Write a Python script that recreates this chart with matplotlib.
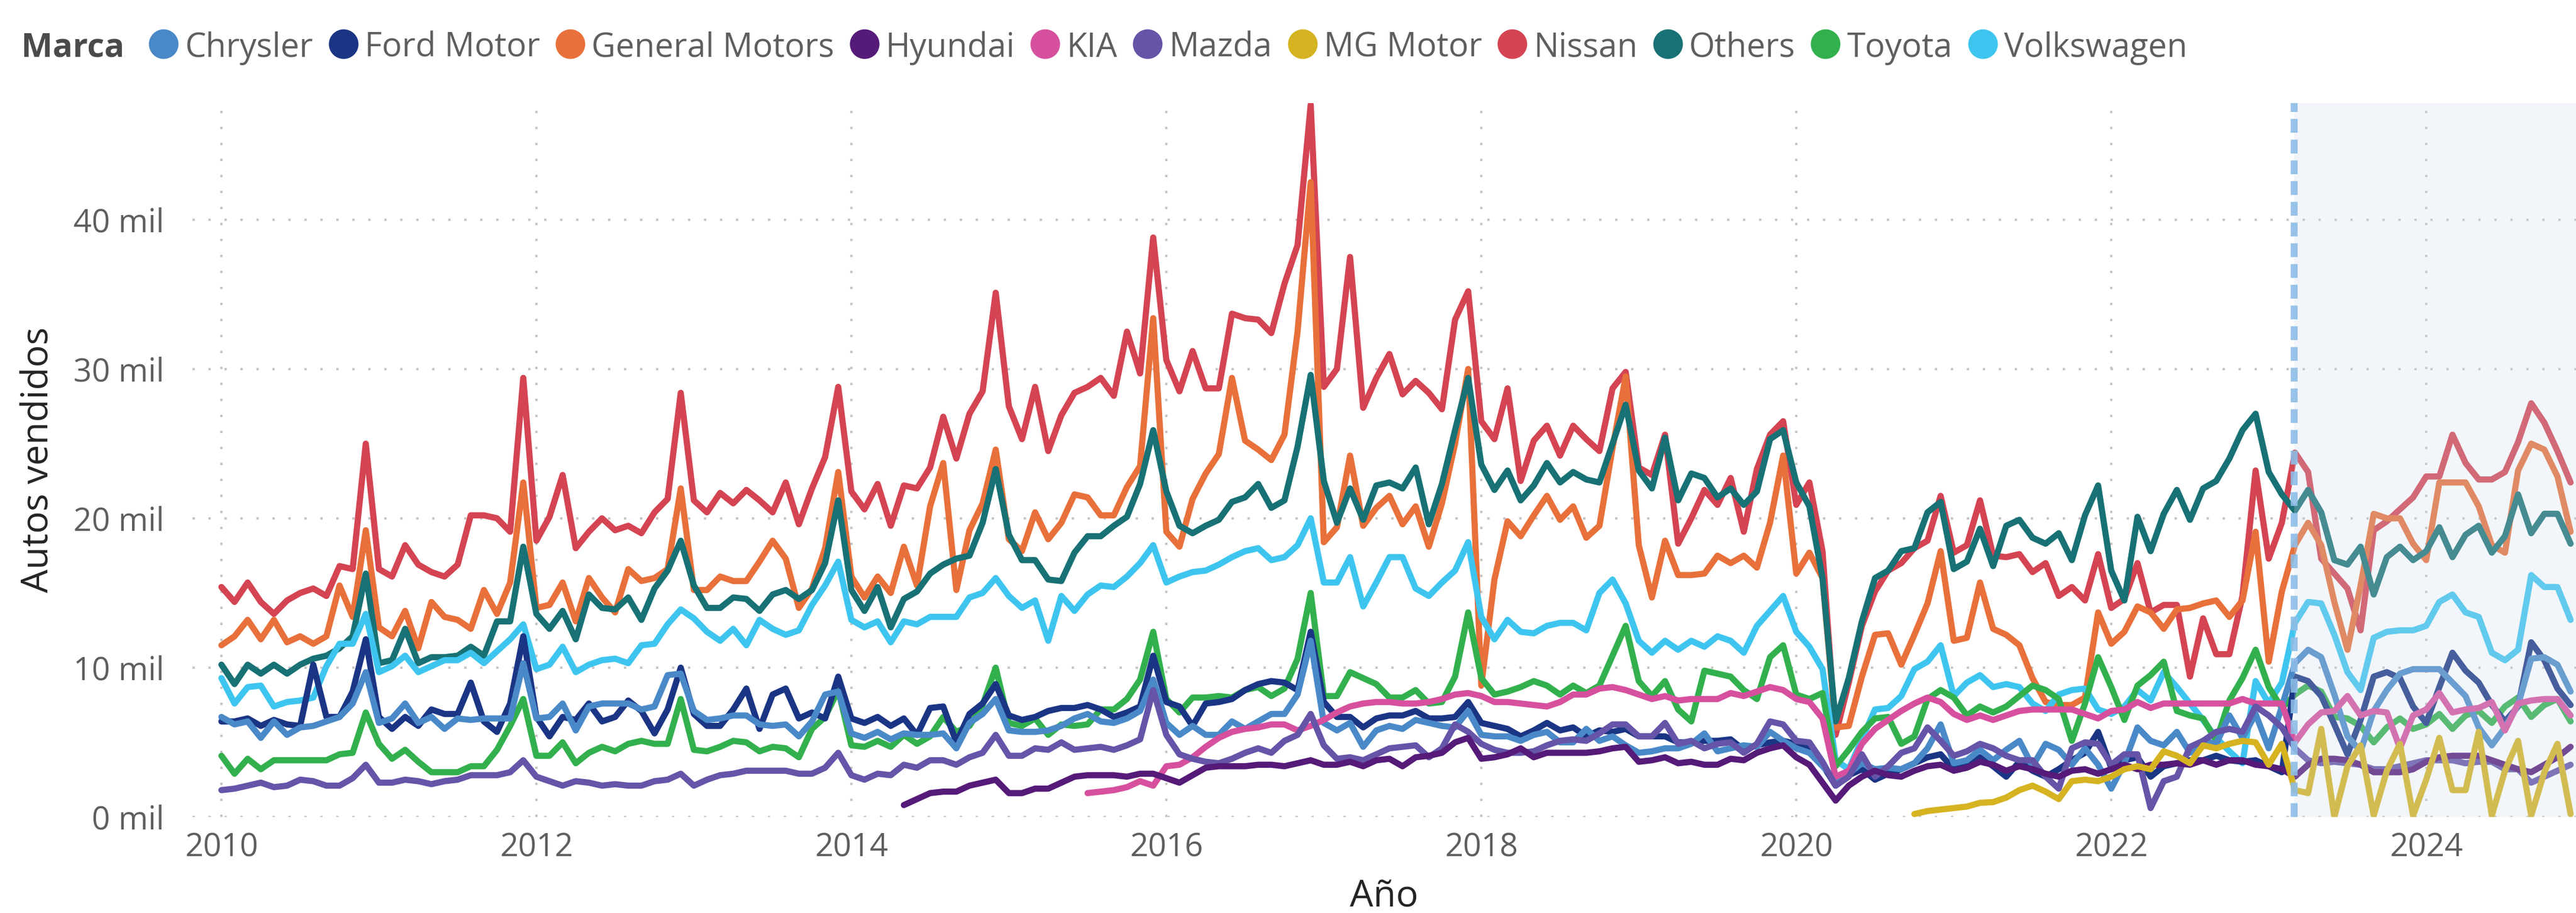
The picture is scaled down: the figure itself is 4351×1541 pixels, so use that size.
import numpy as np
import matplotlib
matplotlib.use("Agg")
import matplotlib.pyplot as plt
from matplotlib.lines import Line2D

plt.rcParams['font.family'] = ['Open Sans', 'DejaVu Sans']

# ---------------------------------------------------------------
# Data: monthly cars sold per brand, in thousands ("mil")
# ---------------------------------------------------------------
brands = ['Chrysler', 'Ford Motor', 'General Motors', 'Hyundai', 'KIA', 'Mazda',
          'MG Motor', 'Nissan', 'Others', 'Toyota', 'Volkswagen']
brand_colors = ['#4A89C8', '#1B3585', '#E8703A', '#561A78', '#D6509E', '#6554A8',
                '#D5B321', '#D44452', '#187174', '#33B04E', '#3EC5EF']
# first month of each series (same order as brands)
series_start = ['2010-01', '2010-01', '2010-01', '2014-05', '2015-07', '2010-01',
                '2020-10', '2010-01', '2010-01', '2010-01', '2010-01']

chrysler = [
    6.7, 6.2, 6.4, 5.3, 6.4, 5.5, 6.0, 6.1, 6.4, 6.7, 7.6, 9.7,
    6.3, 6.6, 7.6, 6.3, 6.7, 5.9, 6.6, 6.5, 6.6, 6.6, 6.6, 10.3,
    6.6, 6.7, 7.6, 5.8, 7.4, 7.6, 7.6, 7.6, 7.2, 7.4, 9.5, 9.6,
    7.1, 6.5, 6.6, 6.8, 6.8, 6.2, 6.1, 6.2, 5.4, 6.4, 8.2, 8.4,
    5.6, 5.3, 5.7, 5.2, 5.6, 5.5, 5.5, 5.6, 4.6, 6.3, 6.9, 7.9,
    5.8, 5.7, 5.7, 5.8, 6.1, 6.6, 6.9, 6.4, 6.3, 6.6, 7.1, 9.2,
    6.3, 5.5, 6.1, 5.5, 5.5, 6.4, 5.9, 6.4, 6.9, 6.9, 8.2, 11.8,
    6.3, 5.8, 6.3, 4.7, 5.8, 6.1, 5.9, 6.5, 6.3, 6.1, 6.0, 7.1,
    5.5, 5.4, 5.4, 5.1, 5.5, 5.7, 5.0, 5.0, 5.9, 5.1, 5.4, 4.8,
    4.3, 4.4, 4.6, 4.6, 4.9, 5.6, 4.4, 4.6, 4.8, 4.7, 5.7, 5.1,
    4.6, 4.3, 3.4, 2.5, 2.9, 3.6, 3.2, 3.3, 3.2, 3.6, 4.6, 6.2,
    3.6, 3.8, 4.5, 3.8, 4.5, 5.1, 3.4, 4.9, 4.5, 3.5, 4.6, 3.5,
    1.9, 3.6, 6.0, 5.1, 4.8, 5.7, 4.3, 5.1, 4.9, 6.8, 5.3, 6.9,
    4.6, 7.4, 10.3, 11.2, 10.7, 8.2, 5.4, 4.4, 7.1, 8.5, 9.6, 9.9,
    9.9, 9.9, 9.0, 8.1, 6.0, 4.8, 6.0, 7.5, 10.6, 10.7, 10.2, 8.4,
]
ford_motor = [
    6.4, 6.4, 6.6, 6.1, 6.5, 6.2, 6.1, 10.2, 6.7, 6.7, 8.4, 11.9,
    6.7, 5.9, 6.7, 6.1, 7.2, 6.9, 6.9, 9.0, 6.4, 5.7, 7.6, 12.1,
    6.7, 5.4, 6.7, 6.5, 7.6, 6.4, 6.7, 7.8, 7.1, 5.6, 7.2, 10.0,
    6.9, 6.1, 6.1, 7.2, 8.6, 5.9, 8.2, 8.6, 6.6, 7.0, 6.6, 9.4,
    6.6, 6.3, 6.7, 6.1, 6.6, 5.5, 7.3, 7.4, 5.0, 6.9, 7.6, 8.9,
    6.8, 6.5, 6.7, 7.1, 7.3, 7.3, 7.5, 7.2, 6.7, 7.0, 7.4, 10.8,
    7.7, 7.4, 6.1, 7.6, 7.7, 7.9, 8.5, 8.9, 9.1, 9.0, 8.5, 12.4,
    7.7, 6.7, 6.7, 6.0, 6.6, 6.8, 6.8, 7.1, 6.6, 6.6, 6.7, 7.7,
    6.3, 6.1, 5.9, 5.4, 5.8, 6.3, 5.8, 6.0, 5.4, 5.8, 5.7, 5.9,
    5.4, 5.4, 5.4, 5.0, 5.0, 5.1, 5.1, 5.2, 4.5, 4.8, 5.0, 5.1,
    4.9, 4.6, 3.5, 2.1, 2.8, 3.2, 2.5, 2.9, 3.2, 3.6, 4.0, 4.2,
    3.2, 3.4, 4.0, 3.4, 2.7, 3.7, 3.1, 2.7, 3.2, 3.8, 4.3, 5.7,
    3.3, 3.8, 4.0, 2.7, 3.4, 3.6, 3.8, 3.8, 4.1, 3.8, 3.7, 3.8,
    3.4, 3.0, 9.4, 9.1, 8.1, 6.2, 4.2, 6.5, 9.4, 9.7, 9.3, 7.4,
    6.3, 8.7, 11.0, 9.8, 9.0, 7.5, 6.4, 7.4, 11.7, 10.5, 8.6, 7.5,
]
general_motors = [
    11.5, 12.1, 13.2, 11.9, 13.2, 11.7, 12.1, 11.6, 12.1, 15.5, 13.4, 19.2,
    12.7, 12.1, 13.8, 11.3, 14.4, 13.4, 13.2, 12.6, 15.2, 13.6, 15.7, 22.4,
    14.0, 14.2, 15.7, 13.1, 16.0, 14.7, 13.7, 16.6, 15.8, 16.0, 16.6, 22.0,
    15.2, 15.2, 16.1, 15.8, 15.8, 17.1, 18.5, 17.3, 14.0, 15.3, 18.0, 23.1,
    16.1, 14.7, 16.1, 15.0, 18.1, 15.5, 20.8, 23.7, 15.2, 19.2, 21.0, 24.6,
    18.6, 17.8, 20.4, 18.6, 19.7, 21.6, 21.4, 20.2, 20.2, 22.1, 23.5, 33.4,
    19.1, 18.1, 21.3, 23.0, 24.3, 29.4, 25.2, 24.6, 23.9, 25.6, 32.5, 42.5,
    18.4, 19.4, 24.2, 19.5, 20.7, 21.5, 19.6, 20.8, 18.1, 21.0, 25.0, 30.0,
    8.8, 15.9, 19.8, 18.8, 20.2, 21.5, 19.9, 20.8, 18.7, 19.5, 24.7, 29.5,
    18.2, 14.7, 18.5, 16.2, 16.2, 16.3, 17.5, 17.0, 17.5, 16.7, 19.7, 24.2,
    16.3, 17.7, 16.0, 6.0, 6.1, 9.4, 12.2, 12.3, 10.2, 12.2, 14.3, 17.8,
    11.8, 12.0, 15.7, 12.6, 12.2, 11.5, 9.3, 7.7, 7.5, 7.5, 8.0, 13.7,
    11.6, 12.4, 14.1, 13.7, 12.6, 13.9, 14.0, 14.3, 14.5, 13.4, 14.5, 19.1,
    10.4, 15.1, 18.2, 19.7, 18.2, 14.4, 11.2, 15.5, 20.3, 20.0, 20.0, 18.3,
    17.2, 22.4, 22.4, 22.4, 20.8, 18.2, 17.7, 23.2, 25.0, 24.6, 22.8, 19.1,
]
hyundai = [
    0.8, 1.2, 1.6, 1.7, 1.7, 2.1, 2.3, 2.5,
    1.6, 1.6, 1.9, 1.9, 2.3, 2.7, 2.8, 2.8, 2.8, 2.7, 2.9, 2.9,
    2.6, 2.3, 2.8, 3.3, 3.4, 3.4, 3.4, 3.5, 3.5, 3.4, 3.6, 3.8,
    3.5, 3.5, 3.7, 3.4, 3.8, 3.9, 3.4, 4.0, 4.1, 4.3, 5.0, 5.3,
    3.9, 4.0, 4.2, 4.6, 4.0, 4.3, 4.3, 4.3, 4.3, 4.4, 4.6, 4.7,
    3.7, 3.8, 4.0, 3.6, 3.7, 3.5, 3.5, 3.9, 3.8, 4.3, 4.6, 4.8,
    4.0, 3.5, 2.3, 1.1, 2.1, 2.7, 3.1, 2.8, 2.7, 3.1, 3.4, 3.5,
    3.1, 3.3, 3.7, 3.5, 3.1, 3.4, 3.2, 2.9, 2.7, 3.1, 3.2, 2.9,
    3.2, 3.5, 3.2, 3.5, 3.5, 3.6, 3.5, 3.8, 3.5, 3.8, 3.8, 3.5,
    3.4, 3.2, 2.7, 3.5, 3.9, 3.9, 3.8, 3.5, 3.0, 3.0, 3.0, 3.2,
    3.7, 4.0, 4.1, 4.1, 4.1, 3.8, 3.5, 3.2, 3.0, 3.5, 4.0, 4.7,
]
kia = [
    1.6, 1.7, 1.8, 2.0, 2.4, 2.1,
    3.4, 3.5, 4.0, 4.7, 5.3, 5.7, 5.9, 6.0, 6.2, 6.2, 5.8, 6.1,
    6.5, 7.0, 7.4, 7.6, 7.7, 7.7, 7.6, 7.6, 7.7, 7.9, 8.2, 8.3,
    8.1, 7.7, 7.7, 7.6, 7.5, 7.4, 7.7, 8.2, 8.2, 8.6, 8.7, 8.5,
    8.2, 7.9, 8.1, 7.8, 7.9, 7.9, 7.9, 8.3, 8.1, 8.4, 8.7, 8.5,
    7.9, 7.7, 6.6, 2.7, 3.1, 4.9, 5.9, 6.5, 7.1, 7.6, 8.0, 7.7,
    6.9, 6.5, 6.8, 6.5, 6.8, 7.1, 7.2, 7.2, 7.2, 7.2, 6.9, 6.6,
    7.1, 7.2, 7.7, 7.3, 7.6, 7.6, 7.6, 7.6, 7.6, 7.6, 7.9, 7.6,
    7.6, 7.6, 5.0, 6.2, 7.0, 7.1, 8.1, 6.8, 7.1, 7.0, 4.6, 6.8,
    7.2, 8.3, 7.0, 7.2, 7.3, 7.7, 5.8, 7.6, 7.8, 7.9, 7.9, 6.8,
]
mazda = [
    1.8, 1.9, 2.1, 2.3, 2.0, 2.1, 2.5, 2.4, 2.1, 2.1, 2.6, 3.5,
    2.3, 2.3, 2.5, 2.4, 2.2, 2.4, 2.5, 2.8, 2.8, 2.8, 3.0, 3.8,
    2.7, 2.4, 2.1, 2.4, 2.3, 2.1, 2.2, 2.1, 2.1, 2.4, 2.5, 2.9,
    2.1, 2.5, 2.8, 2.9, 3.1, 3.1, 3.1, 3.1, 2.9, 2.9, 3.3, 4.3,
    2.8, 2.5, 2.9, 2.8, 3.5, 3.3, 3.8, 3.8, 3.5, 4.0, 4.3, 5.5,
    4.1, 4.1, 4.6, 4.5, 5.0, 4.5, 4.6, 4.7, 4.5, 4.8, 5.2, 8.5,
    5.5, 4.2, 3.9, 3.7, 3.6, 3.9, 4.3, 4.6, 4.3, 5.1, 5.5, 6.9,
    4.8, 3.9, 4.0, 3.8, 4.2, 4.6, 4.7, 4.8, 4.0, 4.6, 6.2, 5.7,
    4.9, 4.5, 4.3, 4.3, 4.4, 4.8, 5.1, 5.2, 5.1, 5.6, 6.2, 6.2,
    5.4, 5.4, 6.3, 4.9, 5.1, 4.6, 4.9, 5.0, 4.3, 4.9, 6.4, 6.2,
    5.1, 5.0, 3.7, 2.1, 2.7, 4.2, 2.7, 3.4, 4.3, 4.6, 6.0, 5.1,
    4.1, 4.4, 4.9, 4.6, 4.1, 3.8, 3.8, 2.7, 1.9, 4.6, 5.0, 4.9,
    3.5, 4.2, 4.2, 0.6, 2.4, 2.7, 4.7, 5.1, 5.7, 5.9, 5.7, 7.4,
    6.8, 6.0, 4.6, 3.8, 3.6, 3.7, 3.6, 3.5, 3.2, 3.2, 3.4, 3.6,
    3.8, 3.8, 3.8, 3.6, 3.7, 3.7, 3.2, 3.2, 2.3, 2.7, 3.1, 3.5,
]
mg_motor = [
    0.2, 0.4, 0.5,
    0.6, 0.7, 0.95, 1.0, 1.3, 1.8, 2.1, 1.7, 1.2, 2.4, 2.5, 2.4,
    2.7, 3.2, 3.4, 3.2, 4.4, 4.1, 3.6, 4.8, 4.6, 4.9, 5.1, 5.0,
    3.5, 4.9, 1.8, 1.6, 5.9, 0.0, 3.4, 4.8, 0.1, 3.1, 4.9, 0.1,
    2.5, 5.3, 1.8, 1.8, 5.7, 0.1, 3.1, 5.1, 0.1, 3.0, 4.9, 0.2,
]
nissan = [
    15.4, 14.4, 15.7, 14.4, 13.6, 14.5, 15.0, 15.3, 14.8, 16.8, 16.6, 25.0,
    16.6, 16.1, 18.2, 16.9, 16.4, 16.1, 16.9, 20.2, 20.2, 20.0, 19.1, 29.4,
    18.5, 20.1, 22.9, 18.0, 19.1, 20.0, 19.2, 19.5, 19.0, 20.4, 21.3, 28.4,
    21.2, 20.4, 21.7, 21.0, 21.9, 21.2, 20.4, 22.4, 19.6, 22.0, 24.1, 28.8,
    21.8, 20.6, 22.3, 19.5, 22.2, 22.0, 23.4, 26.8, 24.0, 27.0, 28.5, 35.1,
    27.5, 25.3, 28.8, 24.5, 26.9, 28.4, 28.8, 29.4, 28.2, 32.5, 29.7, 38.8,
    30.6, 28.5, 31.2, 28.7, 28.7, 33.7, 33.4, 33.3, 32.4, 35.7, 38.3, 47.7,
    28.8, 30.0, 37.5, 27.4, 29.4, 31.0, 28.3, 29.2, 28.4, 27.3, 33.3, 35.2,
    26.5, 25.3, 28.7, 22.5, 25.2, 26.2, 24.2, 26.2, 25.3, 24.5, 28.7, 29.8,
    23.4, 22.9, 25.6, 18.3, 20.0, 21.9, 20.9, 22.7, 19.1, 23.3, 25.6, 26.5,
    20.9, 22.4, 17.8, 5.5, 9.0, 12.8, 15.1, 16.5, 17.0, 18.0, 18.5, 21.5,
    17.7, 18.2, 21.2, 17.5, 17.4, 17.6, 16.4, 17.0, 14.8, 15.4, 14.5, 17.6,
    14.0, 14.6, 17.0, 13.7, 14.2, 14.2, 9.4, 13.3, 10.9, 10.9, 14.8, 23.2,
    17.3, 19.7, 24.4, 23.1, 17.3, 16.3, 15.3, 12.5, 19.2, 19.8, 20.6, 21.4,
    22.8, 22.8, 25.6, 23.7, 22.6, 22.6, 23.1, 25.1, 27.7, 26.4, 24.5, 22.4,
]
others = [
    10.2, 8.9, 10.2, 9.6, 10.2, 9.6, 10.2, 10.6, 10.8, 11.3, 12.1, 16.3,
    10.3, 10.5, 12.6, 10.3, 10.7, 10.7, 10.8, 11.4, 10.8, 13.1, 13.1, 18.1,
    13.6, 12.6, 13.8, 11.9, 14.9, 14.0, 13.9, 14.7, 13.2, 15.3, 16.5, 18.5,
    15.5, 14.0, 14.0, 14.7, 14.6, 13.8, 14.9, 15.2, 14.6, 15.2, 17.0, 21.2,
    15.2, 13.8, 15.4, 12.7, 14.6, 15.1, 16.3, 16.9, 17.3, 17.5, 19.7, 23.3,
    18.9, 17.2, 17.2, 15.9, 15.8, 17.7, 18.8, 18.8, 19.5, 20.1, 22.3, 25.9,
    21.8, 19.5, 19.0, 19.5, 19.9, 21.1, 21.4, 22.3, 20.7, 21.2, 24.8, 29.6,
    22.5, 19.7, 22.0, 19.9, 22.2, 22.4, 22.0, 23.4, 19.6, 22.3, 25.9, 29.4,
    23.6, 21.9, 23.2, 21.2, 22.2, 23.7, 22.4, 23.1, 22.6, 22.4, 25.0, 27.6,
    23.2, 22.0, 25.4, 21.2, 23.0, 22.7, 21.4, 22.0, 20.9, 21.8, 25.3, 25.9,
    22.4, 20.8, 16.0, 6.4, 9.3, 13.1, 16.0, 16.5, 17.8, 18.0, 20.4, 21.1,
    16.6, 17.1, 19.3, 16.8, 19.5, 19.9, 18.7, 18.3, 19.0, 17.2, 20.2, 22.2,
    16.5, 14.5, 20.1, 17.8, 20.3, 21.9, 19.9, 22.0, 22.5, 24.0, 25.9, 27.0,
    23.1, 21.6, 20.5, 21.9, 20.4, 17.2, 16.9, 18.1, 14.9, 17.4, 18.1, 17.2,
    17.8, 19.4, 17.4, 18.9, 19.5, 17.7, 18.8, 21.6, 19.0, 20.3, 20.3, 18.3,
]
toyota = [
    4.1, 2.9, 3.9, 3.2, 3.8, 3.8, 3.8, 3.8, 3.8, 4.2, 4.3, 7.0,
    4.9, 3.9, 4.5, 3.7, 3.0, 3.0, 3.0, 3.4, 3.4, 4.5, 6.1, 7.9,
    4.1, 4.1, 5.0, 3.6, 4.3, 4.7, 4.4, 4.9, 5.1, 4.9, 4.9, 7.9,
    4.5, 4.4, 4.7, 5.1, 5.0, 4.4, 4.7, 4.6, 4.0, 5.9, 6.7, 8.5,
    4.8, 4.7, 5.1, 4.7, 5.5, 4.9, 5.4, 6.7, 5.7, 6.1, 7.5, 10.0,
    6.3, 6.1, 6.6, 5.5, 6.2, 6.1, 6.2, 7.2, 7.2, 7.9, 9.2, 12.4,
    7.9, 7.0, 8.0, 8.0, 8.1, 8.0, 8.5, 8.7, 8.1, 8.6, 10.6, 15.0,
    8.1, 8.1, 9.7, 9.3, 8.9, 8.0, 8.0, 8.5, 7.6, 7.7, 9.4, 13.7,
    9.3, 8.2, 8.4, 8.7, 9.1, 8.8, 8.2, 8.8, 8.3, 8.8, 10.8, 12.8,
    9.1, 8.1, 9.1, 7.2, 6.4, 9.8, 9.6, 9.4, 8.5, 7.9, 10.7, 11.5,
    8.2, 7.9, 8.3, 3.4, 4.5, 5.7, 6.6, 6.7, 4.9, 5.4, 7.9, 8.5,
    8.0, 6.8, 7.4, 7.0, 7.4, 8.1, 8.8, 8.5, 7.9, 5.1, 7.6, 10.7,
    8.7, 6.5, 8.8, 9.5, 10.4, 7.1, 6.8, 6.6, 5.1, 7.8, 9.3, 11.2,
    8.7, 7.3, 8.2, 8.8, 8.4, 6.7, 6.6, 6.1, 5.0, 6.0, 6.6, 5.9,
    6.2, 6.9, 5.9, 6.8, 7.1, 6.3, 7.4, 8.0, 6.7, 7.5, 7.9, 6.4,
]
volkswagen = [
    9.3, 7.6, 8.7, 8.8, 7.4, 7.7, 7.8, 8.0, 10.1, 11.6, 11.6, 13.6,
    9.7, 10.1, 10.8, 9.7, 10.1, 10.5, 10.5, 11.0, 10.3, 11.1, 11.9, 12.9,
    9.9, 10.2, 11.4, 9.7, 10.2, 10.5, 10.6, 10.3, 11.5, 11.6, 12.9, 13.9,
    13.3, 12.4, 11.8, 12.6, 11.5, 13.2, 12.6, 12.2, 12.5, 14.2, 15.5, 17.1,
    13.2, 12.7, 13.1, 11.7, 13.1, 12.9, 13.4, 13.4, 13.4, 14.7, 15.0, 16.0,
    14.8, 14.0, 14.5, 11.8, 14.8, 13.8, 14.9, 15.5, 15.4, 16.1, 17.0, 18.2,
    15.7, 16.1, 16.4, 16.5, 16.9, 17.4, 17.8, 18.0, 17.2, 17.4, 18.2, 20.0,
    15.7, 15.7, 17.4, 14.1, 15.7, 17.4, 17.4, 15.3, 14.8, 15.7, 16.5, 18.4,
    13.4, 11.9, 13.2, 12.4, 12.3, 12.8, 13.0, 13.0, 12.5, 15.0, 15.9, 14.3,
    11.8, 11.0, 11.8, 11.2, 11.8, 11.4, 12.1, 11.8, 11.0, 12.8, 13.8, 14.8,
    12.4, 11.4, 9.9, 3.8, 3.2, 5.2, 7.2, 7.3, 8.1, 9.9, 10.4, 11.5,
    8.1, 9.0, 9.5, 8.7, 8.9, 8.7, 7.6, 7.1, 8.2, 8.5, 8.6, 7.2,
    6.9, 7.4, 8.5, 7.8, 9.7, 8.7, 7.6, 6.5, 5.3, 4.4, 3.6, 9.1,
    7.6, 9.0, 13.0, 14.4, 14.3, 12.2, 9.7, 8.5, 12.0, 12.4, 12.5, 12.5,
    12.8, 14.4, 14.9, 13.7, 13.4, 11.0, 10.5, 11.2, 16.2, 15.4, 15.4, 13.2,
]

series_values = [chrysler, ford_motor, general_motors, hyundai, kia, mazda,
                 mg_motor, nissan, others, toyota, volkswagen]

year_ticks = [2010, 2012, 2014, 2016, 2018, 2020, 2022, 2024]
y_ticks = [0, 10, 20, 30, 40]
cutoff = 2023.16          # dashed marker / shaded period start

# drawing order (first = bottom)
draw_order = ['Nissan', 'General Motors', 'Others', 'Volkswagen', 'Toyota',
              'Ford Motor', 'Chrysler', 'KIA', 'Mazda', 'Hyundai', 'MG Motor']

# ---------------------------------------------------------------
# Layout (pixel geometry of the 4351 x 1541 canvas)
# ---------------------------------------------------------------
W, H, DPI = 4351, 1541, 300
ax_left, ax_right, ax_top, ax_bottom = 325, 4351, 174, 1379
px_per_year = 266.0
x_2010 = 374

fig = plt.figure(figsize=(W / DPI, H / DPI), dpi=DPI)
fig.patch.set_facecolor('white')
ax = fig.add_axes([ax_left / W, 1 - ax_bottom / H,
                   (ax_right - ax_left) / W, (ax_bottom - ax_top) / H])

x_lo = 2010 + (ax_left - x_2010) / px_per_year
x_hi = 2010 + (ax_right - x_2010) / px_per_year
ax.set_xlim(x_lo, x_hi)
ax.set_ylim(0, 47.8)


def month_axis(start, n):
    y, m = (int(p) for p in start.split('-'))
    return y + (m - 1) / 12 + np.arange(n) / 12


for z, name in enumerate(draw_order):
    i = brands.index(name)
    vals = series_values[i]
    x = month_axis(series_start[i], len(vals))
    ax.plot(x, vals, color=brand_colors[i], lw=2.5,
            solid_joinstyle='round', solid_capstyle='round', zorder=2 + z * 0.01)

# shaded period after the cutoff, and dashed marker
ax.axvspan(cutoff, x_hi, color='#CCDAE8', alpha=0.25, lw=0, zorder=3)
ax.axvline(cutoff, color='#8DBDE6', lw=2.8, linestyle=(0, (2.0, 1.0)),
           alpha=0.9, zorder=4)

# grid + ticks
ax.set_xticks(year_ticks)
ax.set_xticklabels([str(y) for y in year_ticks])
ax.set_yticks(y_ticks)
ax.set_yticklabels([f"{v} mil" for v in y_ticks])
ax.grid(True, color='#C8C6C4', lw=0.96, linestyle=(0, (1, 5.75)), zorder=0)
ax.set_axisbelow(True)
for s in ax.spines.values():
    s.set_visible(False)
ax.tick_params(axis='both', length=0, labelsize=13, labelcolor='#605E5C')
ax.tick_params(axis='y', pad=11.5)
ax.tick_params(axis='x', pad=6)

# axis titles
fig.text(65 / W, 1 - 776 / H, 'Autos vendidos', rotation=90, ha='center',
         va='center', fontsize=15, color='#252423')
fig.text(2338 / W, 1 - 1514 / H, 'Año', ha='center', va='center',
         fontsize=15, color='#252423')

# legend row along the top
renderer = fig.canvas.get_renderer()
base_y = 1 - 96 / H
dot_y = 1 - 74 / H
t = fig.text(36 / W, base_y, 'Marca', fontweight='bold', fontsize=13.5,
             color='#4A4A4A', va='baseline', ha='left')
x_px = t.get_window_extent(renderer).x1 + 66
for name, col in zip(brands, brand_colors):
    fig.add_artist(Line2D([x_px / W], [dot_y], marker='o', markersize=11,
                          color=col, linestyle='none',
                          transform=fig.transFigure))
    tt = fig.text((x_px + 36) / W, base_y, name, fontsize=13.5,
                  color='#605E5C', va='baseline', ha='left')
    x_px = tt.get_window_extent(renderer).x1 + 51

fig.savefig('out.png', dpi=DPI, facecolor='white')
